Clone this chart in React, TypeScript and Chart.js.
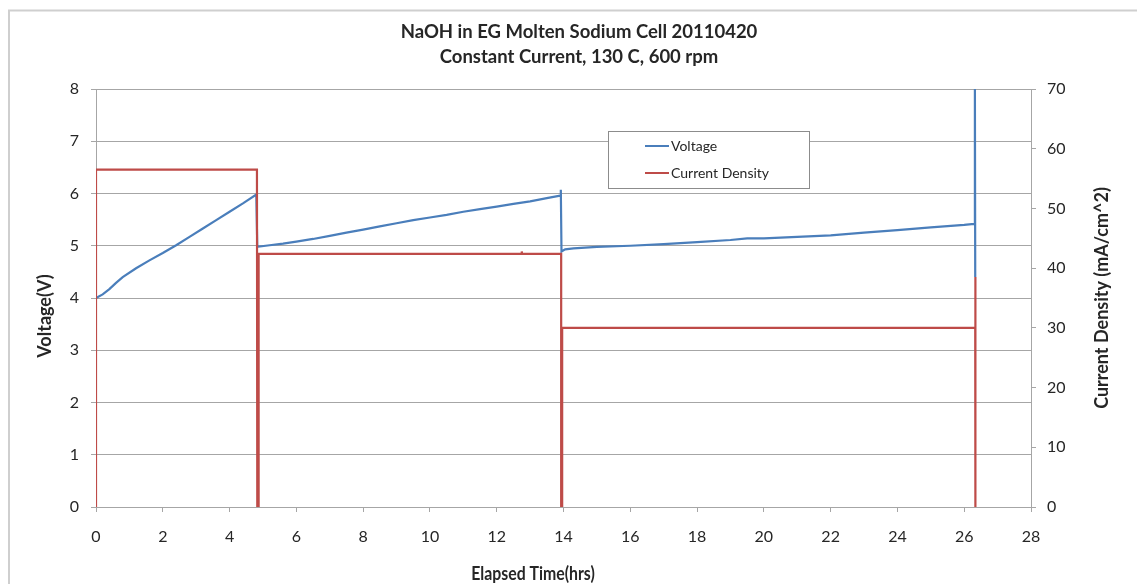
import React, { useEffect, useRef } from "react";
import { Chart, registerables } from "chart.js";

Chart.register(...registerables);

const chartTitle = ["NaOH in EG Molten Sodium Cell 20110420", "Constant Current, 130 C, 600 rpm"];
const xAxisTitle = "Elapsed Time(hrs)";
const leftAxisTitle = "Voltage(V)";
const rightAxisTitle = "Current Density (mA/cm^2)";

const voltageLabel = "Voltage";
const currentLabel = "Current Density";

const voltageTime = [
  0, 0.2, 0.4, 0.6, 0.8, 1.2, 1.6, 2.0, 2.4, 2.8, 3.2, 3.6, 4.0, 4.4, 4.8,
  4.83, 5.2, 5.6, 6.0, 6.5, 7.0, 7.5, 8.0, 8.5, 9.0, 9.5, 10, 10.5, 11, 11.5, 12, 12.5, 13, 13.5, 13.9, 13.92,
  13.94, 14.05, 14.3, 15, 16, 17, 18, 19, 19.5, 20, 21, 22, 23, 24, 25, 26, 26.3, 26.32, 26.33,
];
const voltageValues = [
  4.0, 4.07, 4.17, 4.29, 4.4, 4.57, 4.72, 4.86, 5.01, 5.17, 5.33, 5.49, 5.65, 5.81, 5.98,
  4.98, 5.01, 5.04, 5.08, 5.13, 5.19, 5.25, 5.31, 5.37, 5.43, 5.49, 5.54, 5.59, 5.65, 5.7, 5.75, 5.8, 5.85, 5.91, 5.96, 6.07,
  4.89, 4.93, 4.95, 4.98, 5.0, 5.03, 5.07, 5.11, 5.14, 5.14, 5.17, 5.2, 5.25, 5.3, 5.35, 5.4, 5.42, 8.0, 4.4,
];

const currentTime = [0, 0, 4.82, 4.83, 4.87, 4.87, 12.74, 12.75, 12.76, 13.93, 13.93, 13.96, 13.96, 26.33, 26.33, 26.34];
const currentValues = [0, 56.5, 56.5, 0, 0, 42.4, 42.4, 42.8, 42.4, 42.4, 0, 0, 30, 30, 38.5, 0];

const xMin = 0, xMax = 28, xStep = 2;
const vMin = 0, vMax = 8, vStep = 1;
const cMin = 0, cMax = 70, cStep = 10;

const BLUE = "#4A7EBB";
const RED = "#BE4B48";
const GRID = "#a6a6a6";
const TEXT = "#262626";
const FONT = "Lato, 'Open Sans', sans-serif";

const overlayPlugin = {
  id: "overlay",
  afterDraw(chart: any) {
    const ctx = chart.ctx as CanvasRenderingContext2D;
    const area = chart.chartArea;
    ctx.save();
    // outer border
    ctx.strokeStyle = "#cfcfcf";
    ctx.lineWidth = 2;
    ctx.beginPath();
    ctx.moveTo(9, 600);
    ctx.lineTo(9, 10.5);
    ctx.lineTo(1200, 10.5);
    ctx.stroke();

    ctx.fillStyle = TEXT;
    ctx.textAlign = "center";
    ctx.textBaseline = "middle";

    // chart title
    ctx.font = `bold 18.5px ${FONT}`;
    chartTitle.forEach((line, i) => ctx.fillText(line, 579, 32 + i * 25));

    // axis titles
    ctx.font = `bold 18px ${FONT}`;
    ctx.save();
    ctx.translate(45, 316);
    ctx.rotate(-Math.PI / 2);
    ctx.fillText(leftAxisTitle, 0, 0);
    ctx.restore();
    ctx.save();
    ctx.translate(1102, (area.top + area.bottom) / 2);
    ctx.rotate(-Math.PI / 2);
    ctx.fillText(rightAxisTitle, 0, 0);
    ctx.restore();
    ctx.save();
    ctx.translate(533, 574);
    ctx.scale(0.88, 1);
    ctx.fillText(xAxisTitle, 0, 0);
    ctx.restore();

    // legend
    const bx = 608.5, by = 131.5, bw = 201, bh = 57;
    ctx.fillStyle = "#ffffff";
    ctx.fillRect(bx, by, bw, bh);
    ctx.strokeStyle = "#8c8c8c";
    ctx.lineWidth = 1;
    ctx.strokeRect(bx, by, bw, bh);
    ctx.font = `14px ${FONT}`;
    ctx.textAlign = "left";
    chart.data.datasets.forEach((ds: any, i: number) => {
      const y = 146 + i * 27;
      ctx.strokeStyle = ds.borderColor;
      ctx.lineWidth = 2;
      ctx.beginPath();
      ctx.moveTo(645, y);
      ctx.lineTo(669, y);
      ctx.stroke();
      ctx.fillStyle = TEXT;
      ctx.fillText(ds.label, 671, y);
    });
    ctx.restore();
  },
};

export default function App() {
  const ref = useRef<HTMLCanvasElement>(null);
  useEffect(() => {
    const chart = new Chart(ref.current as HTMLCanvasElement, {
      type: "line",
      data: {
        datasets: [
          {
            label: voltageLabel,
            data: voltageTime.map((t, i) => ({ x: t, y: voltageValues[i] })),
            borderColor: BLUE,
            backgroundColor: BLUE,
            borderWidth: 2.2,
            pointRadius: 0,
            tension: 0,
            yAxisID: "y",
            order: 1,
          },
          {
            label: currentLabel,
            data: currentTime.map((t, i) => ({ x: t, y: currentValues[i] })),
            borderColor: RED,
            backgroundColor: RED,
            borderWidth: 2.2,
            pointRadius: 0,
            tension: 0,
            yAxisID: "y2",
            order: 0,
          },
        ],
      },
      options: {
        responsive: false,
        animation: false,
        events: [],
        layout: { padding: { top: 89 } },
        plugins: {
          legend: { display: false },
          tooltip: { enabled: false },
          title: { display: false },
        },
        scales: {
          x: {
            type: "linear",
            min: xMin,
            max: xMax,
            ticks: {
              stepSize: xStep,
              color: TEXT,
              padding: 15,
              font: { family: FONT, size: 16 },
            },
            grid: { drawOnChartArea: false, color: GRID, tickLength: 5 },
            border: { color: GRID },
            afterFit: (s: any) => { s.height = 77; },
          },
          y: {
            type: "linear",
            position: "left",
            min: vMin,
            max: vMax,
            ticks: { stepSize: vStep, color: TEXT, padding: 12, font: { family: FONT, size: 16 } },
            grid: { color: GRID, tickLength: 5 },
            border: { color: GRID },
            afterFit: (s: any) => { s.width = 96; },
          },
          y2: {
            type: "linear",
            position: "right",
            min: cMin,
            max: cMax,
            ticks: { stepSize: cStep, color: TEXT, padding: 11, font: { family: FONT, size: 16 } },
            grid: { drawOnChartArea: false, color: GRID, tickLength: 5 },
            border: { color: GRID },
            afterFit: (s: any) => { s.width = 106; },
          },
        },
      } as any,
      plugins: [overlayPlugin],
    });
    return () => chart.destroy();
  }, []);
  return (
    <div style={{ position: "fixed", left: 0, top: 0, width: 1137, height: 584, background: "#ffffff", overflow: "hidden" }}>
      <canvas ref={ref} width={1137} height={584} style={{ display: "block", width: 1137, height: 584 }} />
    </div>
  );
}
